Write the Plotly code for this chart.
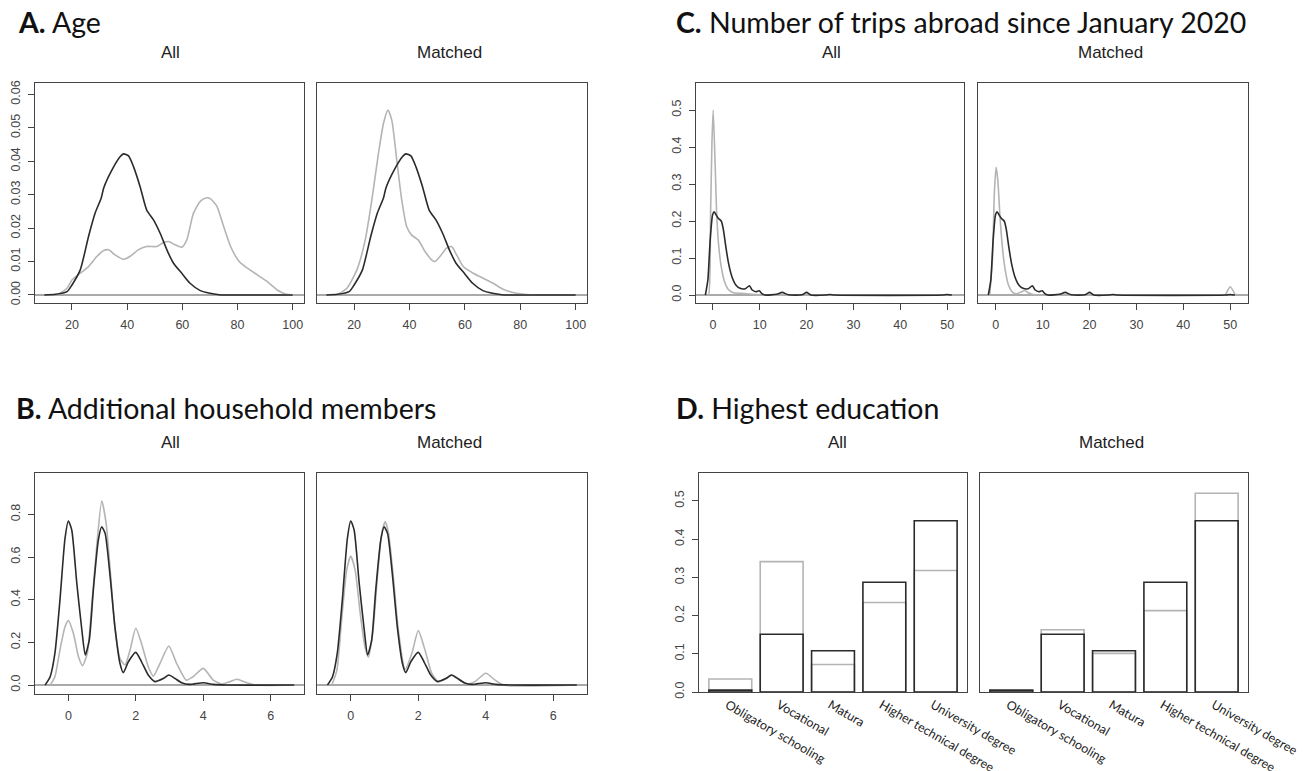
import plotly.graph_objects as go

# ---------------- DATA ----------------
# A. Age (density)
age_x_dark = [10, 14, 18.2, 20, 23, 26, 28.4, 30.6, 31.5, 34.5, 37.5, 38.7, 40.5, 42.3, 44.7, 47.1, 49.6, 52, 54.4, 56.8, 59.8, 62.8, 66.5, 70, 74, 80, 100]
age_y_dark = [0, 0.0002, 0.001, 0.003, 0.0075, 0.0175, 0.0245, 0.0290, 0.032, 0.0374, 0.0414, 0.0422, 0.0416, 0.0384, 0.0324, 0.0254, 0.0224, 0.0184, 0.0135, 0.0095, 0.0065, 0.0035, 0.0013, 0.0005, 0, 0, 0]
age_x_gray_all = [14.6, 18.2, 20, 23, 26, 29, 31.5, 33.3, 35.6, 38.7, 41, 44, 47, 50.8, 53.2, 55, 57.4, 59.8, 61.6, 64, 66.5, 68.5, 70, 72.5, 75, 77.5, 80.6, 83.6, 87.2, 90.8, 94.4, 97.4, 100.5]
age_y_gray_all = [0, 0.002, 0.0045, 0.0065, 0.0085, 0.0115, 0.0133, 0.0135, 0.012, 0.0107, 0.0115, 0.0135, 0.0145, 0.0145, 0.0157, 0.016, 0.015, 0.0143, 0.0164, 0.0244, 0.0280, 0.0290, 0.0289, 0.0266, 0.0204, 0.0145, 0.01, 0.008, 0.006, 0.004, 0.0015, 0.0003, 0]
age_x_gray_matched = [13.8, 17.4, 21, 24, 26.4, 28.8, 30.6, 32.2, 33.6, 35.4, 37.2, 39, 40.8, 43.2, 45.6, 48, 49.2, 51, 53.4, 55.2, 57, 59.4, 63, 66.6, 70.2, 73.8, 78.6, 84.6]
age_y_gray_matched = [0, 0.002, 0.0075, 0.0164, 0.0284, 0.0424, 0.0513, 0.0553, 0.0523, 0.0404, 0.0284, 0.0204, 0.0179, 0.0164, 0.013, 0.0105, 0.01, 0.0115, 0.014, 0.0145, 0.012, 0.0085, 0.0065, 0.005, 0.0035, 0.0017, 0.0005, 0]
age_xticks = [20, 40, 60, 80, 100]
age_yticks = [0.00, 0.01, 0.02, 0.03, 0.04, 0.05, 0.06]

# B. Additional household members (density)
hh_x_dark = [-0.69, -0.54, -0.4, -0.25, -0.1, 0, 0.1, 0.25, 0.4, 0.5, 0.62, 0.74, 0.89, 0.99, 1.09, 1.24, 1.38, 1.53, 1.63, 1.78, 2, 2.17, 2.37, 2.57, 2.82, 2.98, 3.16, 3.36, 3.6, 4, 4.3, 4.7, 6.7]
hh_y_dark = [0, 0.039, 0.148, 0.398, 0.687, 0.769, 0.727, 0.477, 0.258, 0.141, 0.211, 0.445, 0.68, 0.742, 0.711, 0.508, 0.273, 0.102, 0.058, 0.109, 0.153, 0.109, 0.047, 0.016, 0.031, 0.047, 0.031, 0.011, 0.003, 0.011, 0.003, 0, 0]
hh_x_gray_all = [-0.54, -0.4, -0.25, -0.1, 0, 0.15, 0.3, 0.42, 0.56, 0.69, 0.84, 0.99, 1.12, 1.24, 1.38, 1.53, 1.68, 1.83, 2, 2.17, 2.37, 2.52, 2.72, 2.98, 3.21, 3.5, 3.7, 4, 4.3, 4.55, 4.8, 5, 5.29, 5.58, 6.7]
hh_y_gray_all = [0, 0.039, 0.164, 0.273, 0.302, 0.242, 0.133, 0.091, 0.148, 0.367, 0.648, 0.864, 0.758, 0.539, 0.273, 0.125, 0.094, 0.164, 0.266, 0.195, 0.086, 0.042, 0.102, 0.183, 0.102, 0.023, 0.039, 0.078, 0.023, 0.005, 0.016, 0.027, 0.011, 0, 0]
hh_x_gray_matched = [-0.56, -0.41, -0.27, -0.12, 0, 0.13, 0.28, 0.42, 0.52, 0.65, 0.79, 0.92, 1.02, 1.12, 1.26, 1.41, 1.61, 1.81, 2, 2.2, 2.4, 2.6, 2.84, 3.01, 3.18, 3.44, 3.68, 4, 4.28, 4.52, 6.7]
hh_y_gray_matched = [0, 0.07, 0.305, 0.539, 0.605, 0.539, 0.336, 0.18, 0.13, 0.242, 0.508, 0.711, 0.766, 0.711, 0.508, 0.258, 0.073, 0.148, 0.255, 0.164, 0.055, 0.016, 0.031, 0.047, 0.031, 0.005, 0.016, 0.055, 0.023, 0, 0]
hh_xticks = [0, 2, 4, 6]
hh_yticks = [0.0, 0.2, 0.4, 0.6, 0.8]

# C. Number of trips abroad since January 2020 (density)
trips_x_dark = [-1.6, -1.07, -0.57, -0.07, 0.28, 0.71, 1.2, 1.78, 2.2, 2.77, 3.34, 4.05, 4.9, 5.8, 6.9, 7.8, 8.4, 9.2, 9.9, 10.4, 11.1, 13.6, 14.8, 16.1, 19, 20, 20.9, 24, 25, 26, 49, 50, 51]
trips_y_dark = [0, 0.04, 0.149, 0.216, 0.225, 0.216, 0.207, 0.2, 0.18, 0.13, 0.086, 0.05, 0.027, 0.018, 0.017, 0.025, 0.0135, 0.009, 0.0117, 0.0045, 0, 0.002, 0.007, 0.0005, 0.0005, 0.007, 0, 0, 0.0015, 0, 0, 0.0015, 0]
trips_x_gray_all = [-1.3, -0.92, -0.5, -0.2, 0.07, 0.5, 0.78, 1.2, 1.78, 2.5, 3.3, 4.4, 6.2, 8.3, 10.4, 20, 50]
trips_y_gray_all = [0, 0.0, 0.21, 0.41, 0.5, 0.347, 0.23, 0.14, 0.077, 0.036, 0.015, 0.006, 0.0045, 0.002, 0, 0, 0]
trips_x_gray_matched = [-1.3, -0.7, -0.3, 0.07, 0.43, 0.85, 1.4, 2, 2.7, 3.6, 4.4, 5.5, 6.2, 6.9, 8, 9.5, 48, 48.9, 50, 51.1]
trips_y_gray_matched = [0, 0.1, 0.28, 0.345, 0.31, 0.22, 0.13, 0.068, 0.027, 0.007, 0.003, 0.009, 0.012, 0.006, 0.001, 0, 0, 0, 0.0225, 0]
trips_xticks = [0, 10, 20, 30, 40, 50]
trips_yticks = [0.0, 0.1, 0.2, 0.3, 0.4, 0.5]

# D. Highest education (proportions)
edu_categories = ["Obligatory schooling", "Vocational", "Matura", "Higher technical degree", "University degree"]
edu_dark = [0.005, 0.151, 0.108, 0.287, 0.448]
edu_gray_all = [0.034, 0.341, 0.072, 0.234, 0.318]
edu_gray_matched = [0.003, 0.163, 0.101, 0.213, 0.520]
edu_yticks = [0.0, 0.1, 0.2, 0.3, 0.4, 0.5]

# ---------------- STYLE / LAYOUT ----------------
W, H = 1306, 771
OFF = 8  # page body margin in the browser
DARK = "#2b2b2b"
GRAY = "#b4b4b4"
AXC = "#444444"
TICKFONT = dict(family="Liberation Sans, Arial, sans-serif", size=12.5, color="#444444")

def xd(a, b):
    return [(a - OFF) / W, (b - OFF) / W]

def yd(top, bottom):
    return [1 - (bottom - OFF) / H, 1 - (top - OFF) / H]

fig = go.Figure()

# panel boxes in pixels: (left, right, top, bottom)
panels = {
    1: dict(box=(35, 304, 83, 303), xr=[6.6, 104.1], yr=[-0.0024, 0.0634], xt=age_xticks, yt=age_yticks, yfmt=".2f", showy=True),
    2: dict(box=(317, 587, 83, 303), xr=[6.6, 104.1], yr=[-0.0024, 0.0634], xt=age_xticks, yt=age_yticks, yfmt=".2f", showy=False),
    3: dict(box=(696, 964, 83, 303), xr=[-3.6, 53.6], yr=[-0.0216, 0.573], xt=trips_xticks, yt=trips_yticks, yfmt=".1f", showy=True),
    4: dict(box=(978, 1248, 83, 303), xr=[-3.8, 53.8], yr=[-0.0216, 0.573], xt=trips_xticks, yt=trips_yticks, yfmt=".1f", showy=False),
    5: dict(box=(35, 304, 473, 694), xr=[-0.99, 6.99], yr=[-0.042, 0.994], xt=hh_xticks, yt=hh_yticks, yfmt=".1f", showy=True),
    6: dict(box=(317, 587, 473, 694), xr=[-1.0, 7.0], yr=[-0.042, 0.994], xt=hh_xticks, yt=hh_yticks, yfmt=".1f", showy=False),
    7: dict(box=(699, 967, 473, 692), xr=[-0.61, 4.61], yr=[0, 0.573], xt=None, yt=edu_yticks, yfmt=".1f", showy=True),
    8: dict(box=(980, 1248, 473, 692), xr=[-0.61, 4.61], yr=[0, 0.573], xt=None, yt=edu_yticks, yfmt=".1f", showy=False),
}

layout_axes = {}
for i, p in panels.items():
    l, r, t, b = p["box"]
    xname = "xaxis" if i == 1 else f"xaxis{i}"
    yname = "yaxis" if i == 1 else f"yaxis{i}"
    xa = dict(domain=xd(l, r), anchor=f"y{'' if i == 1 else i}", range=p["xr"], automargin=False,
              showline=True, mirror=True, linecolor=AXC, linewidth=1.3,
              showgrid=False, zeroline=False, tickfont=TICKFONT)
    if p["xt"] is not None:
        xa.update(tickmode="array", tickvals=p["xt"], ticks="outside", ticklen=6,
                  tickcolor=AXC, tickwidth=1, ticklabelstandoff=4)
    else:
        xa.update(type="category", ticks="", tickangle=30, ticklabelshift=-3,
                  tickfont=dict(family="Lato, Open Sans, sans-serif", size=12.5, color="#222222"))
    ya = dict(domain=yd(t, b), anchor=f"x{'' if i == 1 else i}", range=p["yr"], automargin=False,
              showline=True, mirror=True, linecolor=AXC, linewidth=1.3,
              showgrid=False, zeroline=False, tickfont=TICKFONT)
    if p["showy"]:
        ya.update(tickmode="array", tickvals=p["yt"], tickformat=p["yfmt"], ticks="outside",
                  ticklen=6, tickcolor=AXC, tickwidth=1, tickangle=-90, ticklabelstandoff=3)
    else:
        ya.update(showticklabels=False, ticks="")
    layout_axes[xname] = xa
    layout_axes[yname] = ya

def add_line(i, x, y, color):
    fig.add_trace(go.Scatter(x=x, y=y, mode="lines", line=dict(color=color, width=1.6, shape="spline", smoothing=0.6),
                             xaxis=f"x{'' if i == 1 else i}", yaxis=f"y{'' if i == 1 else i}",
                             showlegend=False, hoverinfo="skip"))

# density panels: gray first, then dark on top
add_line(1, age_x_gray_all, age_y_gray_all, GRAY)
add_line(1, age_x_dark, age_y_dark, DARK)
add_line(2, age_x_gray_matched, age_y_gray_matched, GRAY)
add_line(2, age_x_dark, age_y_dark, DARK)
add_line(3, trips_x_gray_all, trips_y_gray_all, GRAY)
add_line(3, trips_x_dark, trips_y_dark, DARK)
add_line(4, trips_x_gray_matched, trips_y_gray_matched, GRAY)
add_line(4, trips_x_dark, trips_y_dark, DARK)
add_line(5, hh_x_gray_all, hh_y_gray_all, GRAY)
add_line(5, hh_x_dark, hh_y_dark, DARK)
add_line(6, hh_x_gray_matched, hh_y_gray_matched, GRAY)
add_line(6, hh_x_dark, hh_y_dark, DARK)

# bar panels
def add_bars(i, vals, color):
    fig.add_trace(go.Bar(x=edu_categories, y=vals, width=0.835,
                         marker=dict(color="rgba(0,0,0,0)", line=dict(color=color, width=1.6)),
                         xaxis=f"x{i}", yaxis=f"y{i}", showlegend=False, hoverinfo="skip"))

add_bars(7, edu_gray_all, GRAY)
add_bars(7, edu_dark, DARK)
add_bars(8, edu_gray_matched, GRAY)
add_bars(8, edu_dark, DARK)

# zero lines in density panels
shapes = []
for i in range(1, 7):
    sx = "x" if i == 1 else f"x{i}"
    sy = "y" if i == 1 else f"y{i}"
    shapes.append(dict(type="line", xref=f"{sx} domain", yref=sy, x0=0, x1=1, y0=0, y1=0,
                       line=dict(color="#555555", width=1.1), layer="below"))

annotations = []
TITLEFONT = dict(family="Lato, Open Sans, sans-serif", size=28.5, color="#111111")
SUBFONT = dict(family="Liberation Sans, Arial, sans-serif", size=17, color="#222222")
titles = [
    ("<b>A.</b> Age", 16, 22),
    ("<b>B.</b> Additional household members", 14, 408),
    ("<b>C.</b> Number of trips abroad since January 2020", 674, 22),
    ("<b>D.</b> Highest education", 674, 408),
]
for txt, px, py in titles:
    annotations.append(dict(text=txt, x=(px - OFF) / W, y=1 - (py - OFF) / H, xref="paper", yref="paper",
                            xanchor="left", yanchor="middle", showarrow=False, font=TITLEFONT))
subs = [
    ("All", 170, 52), ("Matched", 449, 52), ("All", 831, 52), ("Matched", 1110, 52),
    ("All", 170, 442), ("Matched", 449, 442), ("All", 837, 442), ("Matched", 1111, 442),
]
for txt, px, py in subs:
    annotations.append(dict(text=txt, x=(px - OFF) / W, y=1 - (py - OFF) / H, xref="paper", yref="paper",
                            xanchor="center", yanchor="middle", showarrow=False, font=SUBFONT))

fig.update_layout(width=W, height=H, margin=dict(l=0, r=0, t=0, b=0, autoexpand=False),
                  paper_bgcolor="white", plot_bgcolor="white", barmode="overlay",
                  shapes=shapes, annotations=annotations, showlegend=False, **layout_axes)

fig.write_html("out.html")
